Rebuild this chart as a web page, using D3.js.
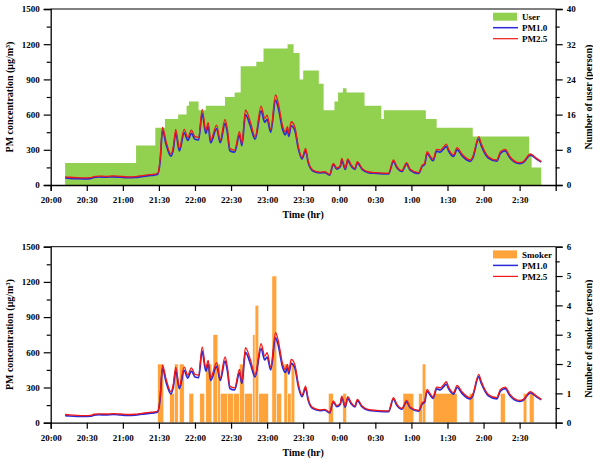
<!DOCTYPE html>
<html>
<head>
<meta charset="utf-8">
<script src="https://cdn.jsdelivr.net/npm/d3@7"></script>
<style>
  body { margin: 0; background: #fff; }
  svg text { font-family: "Liberation Serif", "Times New Roman", serif; font-weight: bold; }
</style>
</head>
<body>
<div id="plot"></div>
<script>
// x axis tick labels (30 min steps from 20:00)
const tickLabels = ["20:00","20:30","21:00","21:30","22:00","22:30","23:00","23:30",
                    "0:00","0:30","1:00","1:30","2:00","2:30"];

// PM time series
const pmTimes = ["20:12","20:16","20:22","20:28","20:33","20:36","20:40","20:46","20:52","20:58",
  "21:04","21:10","21:16","21:22","21:26","21:29","21:31","21:33","21:36","21:40",
  "21:42","21:44","21:47","21:51","21:54","21:57","22:00","22:03","22:06","22:09",
  "22:11","22:13","22:18","22:21","22:25","22:27","22:29","22:33","22:37","22:39",
  "22:42","22:46","22:50","22:55","22:58","23:00","23:03","23:07","23:09","23:13",
  "23:15","23:17","23:18","23:20","23:23","23:26","23:29","23:32","23:34","23:38",
  "23:44","23:48","23:52","23:55","23:58","0:01","0:02","0:05","0:07","0:10",
  "0:13","0:15","0:19","0:24","0:31","0:41","0:45","0:48","0:52","0:56",
  "0:59","1:06","1:09","1:11","1:13","1:16","1:18","1:21","1:24","1:27",
  "1:29","1:31","1:35","1:38","1:42","1:49","1:51","1:56","1:58","2:04",
  "2:11","2:14","2:18","2:22","2:30","2:33","2:39","2:44","2:48"];

const pm25 = [70,66,62,60,62,72,76,74,78,74,
  70,72,80,88,92,100,220,491,370,264,
  330,474,312,474,406,468,412,406,645,468,
  531,383,511,383,560,470,312,298,454,355,
  639,539,412,673,568,596,474,767,710,497,
  454,497,440,539,497,327,236,312,210,128,
  110,113,90,185,145,170,227,142,222,170,
  142,199,142,113,105,100,213,156,122,190,
  134,105,170,185,284,241,219,304,298,327,
  349,304,256,318,264,213,241,412,355,241,
  213,284,304,241,190,199,264,227,199];

const pm10 = [60,57,54,53,55,64,68,66,70,66,
  63,65,72,80,84,92,200,465,345,245,
  305,445,290,445,380,440,390,385,610,440,
  500,360,480,360,525,440,292,280,425,335,
  600,505,390,632,535,560,450,722,670,468,
  428,468,415,505,468,308,222,292,198,120,
  103,106,84,175,136,160,212,133,208,160,
  134,187,134,106,99,94,200,147,115,178,
  126,99,160,174,268,228,207,288,280,310,
  330,288,243,302,250,202,229,392,338,229,
  203,270,290,230,182,192,255,221,195];

// number of users (step changes)
const userTimes = ["20:12","21:11","21:27","21:35","21:46","21:53","21:55","22:03","22:09","22:25",
  "22:33","22:38","22:51","22:57","23:17","23:22","23:27","23:30","23:43","23:47",
  "23:56","23:59","0:03","0:06","0:21","0:35","0:37","1:12","1:21","1:51",
  "2:38","2:40"];
const userCounts = [5,9,13,15,16,18,19,17,18,20,
  21,27,28,31,32,30,24,26,23,17,
  19,21,22,21,18,15,17,15,13,11,
  7,4];
const userEnd = "2:48";

// number of smokers (bars)
const smokerStart = ["21:29","21:39","21:43","21:47","21:55","22:04","22:09","22:15","22:19","22:21",
  "22:27","22:32","22:37","22:41","22:48","22:50","22:53","23:04","23:08","23:14",
  "23:17","23:20","23:51","0:03","0:53","1:06","1:09","1:18","1:48","2:14",
  "2:33","2:38"];
const smokerEnd = ["21:34","21:43","21:46","21:51","21:59","22:08","22:14","22:19","22:21","22:27",
  "22:32","22:37","22:41","22:48","22:50","22:53","23:01","23:08","23:12","23:17",
  "23:20","23:23","23:55","0:06","1:02","1:09","1:12","1:38","1:52","2:18",
  "2:36","2:42"];
const smokerCount = [2,1,2,2,1,1,2,3,2,1,
  1,1,2,1,3,4,1,5,1,2,
  1,2,1,1,1,1,2,1,1,1,
  1,1];

// minutes after 20:00
function toMin(s) {
  const p = s.split(":");
  let h = +p[0];
  if (h < 20) h += 24;
  return (h - 20) * 60 + (+p[1]);
}

const W = 593, H = 459;
const left = 50.7, right = 555.7;

const svg = d3.select("div#plot").append("svg")
  .attr("width", W).attr("height", H);

const x = d3.scaleLinear().domain([0, 420]).range([left, right]);

const pmData = pmTimes.map((t, i) => ({ t: toMin(t), pm25: pm25[i], pm10: pm10[i] }));

function drawPanel(top, bottom, opts) {
  const yL = d3.scaleLinear().domain([0, 1500]).range([bottom, top]);
  const yR = d3.scaleLinear().domain([0, opts.rMax]).range([bottom, top]);
  const g = svg.append("g");

  // bars / steps on right scale
  opts.drawBars(g, yR);

  // lines
  const line10 = d3.line().curve(d3.curveMonotoneX).x(d => x(d.t)).y(d => yL(d.pm10));
  const line25 = d3.line().curve(d3.curveMonotoneX).x(d => x(d.t)).y(d => yL(d.pm25));
  g.append("path").datum(pmData).attr("d", line10)
    .attr("fill", "none").attr("stroke", "#2a2ad8").attr("stroke-width", 1.7);
  g.append("path").datum(pmData).attr("d", line25)
    .attr("fill", "none").attr("stroke", "#f01818").attr("stroke-width", 1.3);

  // frame
  g.append("line").attr("x1", left).attr("x2", right).attr("y1", top).attr("y2", top)
    .attr("stroke", "#000").attr("stroke-width", 1);

  // left axis with minor ticks
  g.append("g").attr("transform", `translate(${left},0)`)
    .call(d3.axisLeft(yL).tickValues(d3.range(0, 1501, 300)).tickSize(7).tickPadding(4).tickFormat(d3.format("d")));
  g.append("g").attr("transform", `translate(${left},0)`)
    .call(d3.axisLeft(yL).tickValues(d3.range(150, 1500, 300)).tickSize(4).tickFormat(""))
    .select(".domain").remove();

  // right axis
  g.append("g").attr("transform", `translate(${right},0)`)
    .call(d3.axisRight(yR).tickValues(d3.range(0, opts.rMax + 0.01, opts.rStep)).tickSize(7).tickPadding(4)
      .tickFormat(d3.format("d")));
  g.append("g").attr("transform", `translate(${right},0)`)
    .call(d3.axisRight(yR).tickValues(d3.range(opts.rStep / 2, opts.rMax, opts.rStep)).tickSize(4).tickFormat(""))
    .select(".domain").remove();

  // bottom axis
  g.append("g").attr("transform", `translate(0,${bottom})`)
    .call(d3.axisBottom(x).tickValues(tickLabels.map(toMin)).tickSize(6).tickPadding(6)
      .tickFormat((d, i) => tickLabels[i]));

  g.selectAll(".domain").attr("stroke-width", 1.3);
  g.selectAll(".tick line").attr("stroke-width", 1.2);
  g.selectAll(".tick text").style("font-size", "9px").style("font-family", "Liberation Serif").style("font-weight", "bold");

  // axis titles
  g.append("text")
    .attr("transform", `translate(13,${(top + bottom) / 2}) rotate(-90)`)
    .attr("text-anchor", "middle").style("font-size", "10px")
    .text("PM concentration (\u03bcg/m\u00b3)");
  g.append("text")
    .attr("transform", `translate(592,${(top + bottom) / 2 + opts.rTitleShift}) rotate(-90)`)
    .attr("text-anchor", "middle").style("font-size", "10px")
    .text(opts.rTitle);
  g.append("text")
    .attr("x", (left + right) / 2).attr("y", bottom + 33)
    .attr("text-anchor", "middle").style("font-size", "10px")
    .text("Time (hr)");

  // legend
  const lg = g.append("g").attr("transform", `translate(493,${top + 3.7})`);
  lg.append("rect").attr("x", 0).attr("y", 0).attr("width", 24).attr("height", 8).attr("fill", opts.color);
  lg.append("line").attr("x1", 0).attr("x2", 25).attr("y1", 15).attr("y2", 15)
    .attr("stroke", "#2a2ad8").attr("stroke-width", 1.5);
  lg.append("line").attr("x1", 0).attr("x2", 25).attr("y1", 26).attr("y2", 26)
    .attr("stroke", "#f01818").attr("stroke-width", 1.2);
  [opts.name, "PM1.0", "PM2.5"].forEach((s, i) => {
    lg.append("text").attr("x", 29).attr("y", 4 + i * 11).attr("dy", "0.35em")
      .style("font-size", "9px").text(s);
  });
}

// top panel: users
drawPanel(9, 185, {
  rMax: 40, rStep: 8, rTitle: "Number of user (person)", rTitleShift: 0,
  color: "#92d050", name: "User",
  drawBars: (g, yR) => {
    const steps = userTimes.map((t, i) => ({ t: toMin(t), v: userCounts[i] }));
    steps.push({ t: toMin(userEnd), v: userCounts[userCounts.length - 1] });
    const area = d3.area().curve(d3.curveStepAfter)
      .x(d => x(d.t)).y0(yR(0)).y1(d => yR(d.v));
    g.append("path").datum(steps).attr("d", area).attr("fill", "#92d050");
  }
});

// bottom panel: smokers
drawPanel(246.7, 422.7, {
  rMax: 6, rStep: 1, rTitle: "Number of smoker (person)", rTitleShift: 4,
  color: "#ffa33a", name: "Smoker",
  drawBars: (g, yR) => {
    g.selectAll(".smk").data(smokerCount).enter().append("rect")
      .attr("class", "smk")
      .attr("x", (d, i) => x(toMin(smokerStart[i])))
      .attr("width", (d, i) => x(toMin(smokerEnd[i])) - x(toMin(smokerStart[i])))
      .attr("y", d => yR(d))
      .attr("height", d => yR(0) - yR(d))
      .attr("fill", "#ffa33a")
      .attr("stroke", "#fff").attr("stroke-width", 0.5);
  }
});
</script>
</body>
</html>
